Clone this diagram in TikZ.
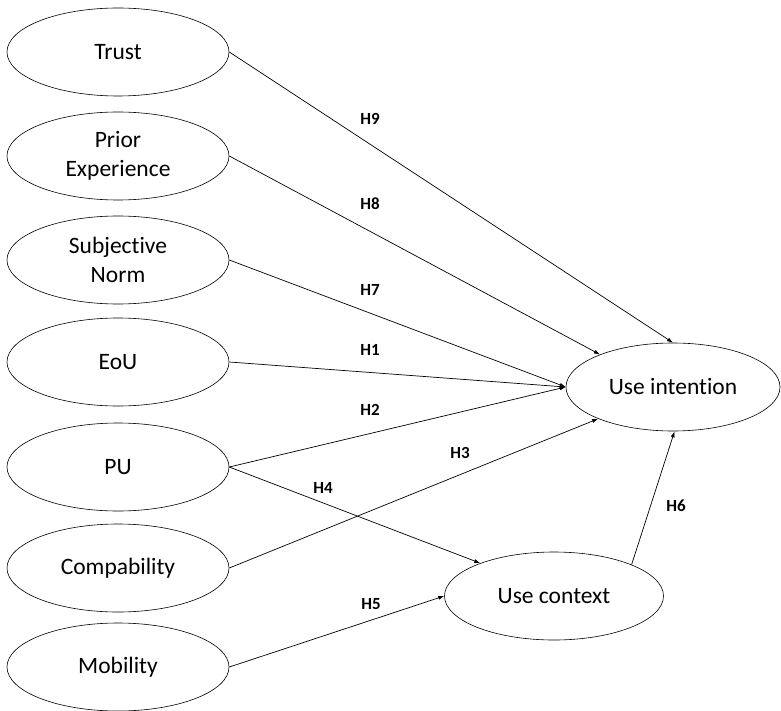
\documentclass[tikz,border=0pt]{standalone}
\usepackage{fontspec}
\setmainfont{Carlito}[Ligatures=NoCommon]
\usetikzlibrary{shapes.geometric,arrows.meta}
\begin{document}
\begin{tikzpicture}[x=1pt,y=-1pt,
  construct/.style={draw, ellipse, line width=0.6pt, minimum width=222pt, minimum height=88pt,
    inner sep=0pt, align=center, font=\fontsize{23.5}{29}\selectfont},
  path/.style={line width=0.7pt, -{Latex[length=6pt,width=4pt]}},
  hyp/.style={font=\bfseries\fontsize{17}{20}\selectfont, inner sep=0pt}]
\useasboundingbox (0,0) rectangle (781,711);
% predictors
\node[construct] (trust) at (118,52)  {Trust};
\node[construct] (prior) at (118,156) {Prior\\Experience};
\node[construct] (norm)  at (118,260) {Subjective\\Norm};
\node[construct] (eou)   at (118,362) {EoU};
\node[construct] (pu)    at (118,467) {PU};
\node[construct] (comp)  at (118,568) {Compability};
\node[construct] (mob)   at (118,667) {Mobility};
% outcomes
\node[construct, minimum width=214pt] (ui) at (673,387) {Use intention};
\node[construct, minimum width=219pt] (uc) at (554,596) {Use context};
% hypothesised paths
\draw[path] (trust.east) -- (ui.north);
\draw[path] (prior.east) -- (ui.156);
\draw[path] (norm.east)  -- (ui.west);
\draw[path] (eou.east)   -- (ui.west);
\draw[path] (pu.east)    -- (ui.west);
\draw[path] (comp.east)  -- (ui.203);
\draw[path] (pu.east)    -- (uc.156);
\draw[path] (mob.east)   -- (uc.west);
\draw[path] (uc.22)      -- (ui.272);
% hypothesis labels
\node[hyp] (h9) at (370,119) {H9};
\node[hyp] (h8) at (370,204) {H8};
\node[hyp] (h7) at (370,290) {H7};
\node[hyp] (h1) at (370,350) {H1};
\node[hyp] (h2) at (370,410) {H2};
\node[hyp] (h3) at (460,453) {H3};
\node[hyp] (h4) at (323,488) {H4};
\node[hyp] (h5) at (371,604) {H5};
\node[hyp] (h6) at (676,506) {H6};
\end{tikzpicture}
\end{document}
